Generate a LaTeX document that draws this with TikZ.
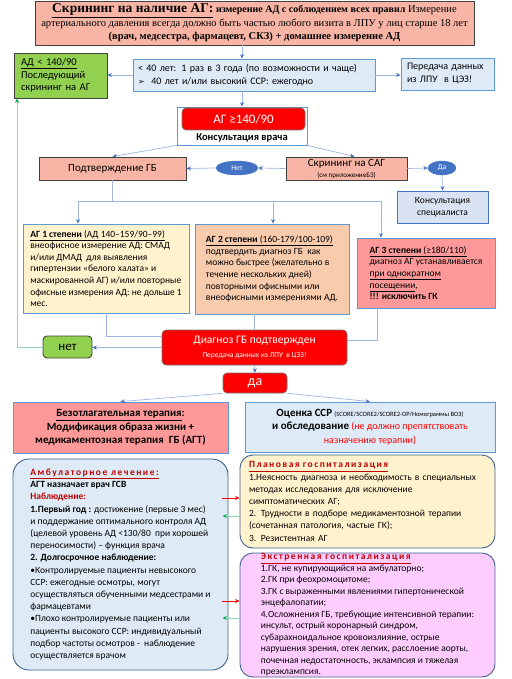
\documentclass[tikz,border=0pt]{standalone}
\usepackage{fontspec}
\setmainfont{Carlito}
\newfontfamily\timesfont{Liberation Serif}
\newfontfamily\spacedfont[LetterSpace=16]{Carlito}
\newfontfamily\symbfont{DejaVu Sans}
\usepackage{xcolor}
\usepackage{tikz}
\usetikzlibrary{shapes.geometric,arrows.meta}

\definecolor{salmon}{HTML}{F8B4A4}
\definecolor{paleblue}{HTML}{DEEBF7}
\definecolor{edgeblue}{HTML}{5B9BD5}
\definecolor{lineblue}{HTML}{9DB5DF}
\definecolor{tipblue}{HTML}{4472C4}
\definecolor{frameblue}{HTML}{41618F}
\definecolor{paleyellow}{HTML}{FFF2CC}
\definecolor{peach}{HTML}{F8CBAD}
\definecolor{rosered}{HTML}{FF9999}
\definecolor{leafgreen}{HTML}{92D050}
\definecolor{softgreen}{HTML}{8CD9A8}
\definecolor{tipgreen}{HTML}{00B050}
\definecolor{pinkviolet}{HTML}{FFCCFF}
\definecolor{darkred}{HTML}{C00000}
\definecolor{lavender}{HTML}{DAE3F3}

\begin{document}
\begin{tikzpicture}[x=1pt, y=-1pt,
    font=\fontsize{9.5}{11.6}\selectfont,
    box/.style={draw=edgeblue, line width=0.8pt, inner sep=0pt},
    darkbox/.style={draw=black!75, line width=0.9pt, inner sep=0pt},
    redbox/.style={fill=red, draw=black!55, line width=0.6pt, rounded corners=4pt, text=white, inner sep=0pt},
    oval/.style={ellipse, fill=tipblue, draw=tipblue, text=white, inner sep=0pt, font=\fontsize{7.5}{8}\selectfont},
    roundbox/.style={draw=frameblue, line width=0.9pt, rounded corners=16pt, inner sep=0pt},
    link/.style={draw=lineblue, line width=0.7pt},
    arr/.style={link, -{Stealth[color=tipblue, length=4.5pt, width=4pt]}},
    garr/.style={draw=softgreen, line width=0.7pt, -{Stealth[color=tipgreen, length=4.5pt, width=4pt]}},
    rarr/.style={draw=red, line width=0.7pt, -{Stealth[color=red, length=4.5pt, width=4pt]}}]
    \useasboundingbox (0,0) rectangle (511,679);

    \node[darkbox, fill=salmon, minimum width=439pt, minimum height=44pt, align=center, font=\timesfont\fontsize{10.5}{13.5}\selectfont] (scr) at (254.5,23) {{\fontsize{13.5}{14}\selectfont\bfseries\underline{Скрининг на наличие АГ:}} {\fontsize{10}{13.5}\selectfont\bfseries измерение АД с соблюдением всех правил} Измерение\\ артериального давления всегда должно быть частью любого визита в ЛПУ у лиц старше 18 лет\\ \textbf{(врач, медсестра, фармацевт, СКЗ) + домашнее измерение АД}};
    \node[box, fill=paleblue, minimum width=242pt, minimum height=32pt, inner xsep=5pt, text width=232pt, align=left, font=\fontsize{10}{13}\selectfont] (freq) at (254,75) {< 40 лет: 1 раз в 3 года (по возможности и чаще)\\ {\symbfont\fontsize{8}{10}\selectfont ➢}\ \ 40 лет и/или высокий ССР: ежегодно};
    \node[darkbox, fill=leafgreen, minimum width=93pt, minimum height=45pt, inner xsep=7pt, text width=79pt, align=left, font=\fontsize{10.5}{12.7}\selectfont] (norm) at (60.5,75.5) {\underline{АД < 140/90}\\ Последующий\\ скрининг на АГ};
    \node[box, fill=paleblue, minimum width=93pt, minimum height=32pt, inner xsep=6pt, text width=81pt, align=left, font=\fontsize{10}{13}\selectfont] (send) at (447.5,74) {Передача данных\\ из ЛПУ \ в ЦЭЗ!};

    \node[box, fill=white, minimum width=130pt, minimum height=38pt] (ag) at (242,126) {};
    \node[redbox, minimum width=123pt, minimum height=22pt, font=\fontsize{13}{14}\selectfont] (agred) at (243.5,119) {АГ ≥140/90};
    \node[font=\bfseries\fontsize{10.5}{12}\selectfont] (doctor) at (242,137.5) {Консультация врача};

    \node[darkbox, fill=salmon, minimum width=147pt, minimum height=23pt, font=\fontsize{11}{12}\selectfont] (confirm) at (112.5,168.5) {Подтверждение ГБ};
    \node[darkbox, fill=salmon, minimum width=121pt, minimum height=23pt, align=center, font=\fontsize{11}{11}\selectfont] (sag) at (346.5,168.5) {Скрининг на САГ\\ {\fontsize{7}{8}\selectfont(см приложениеБ3)}};
    \node[oval, minimum width=42pt, minimum height=14pt] (no1) at (237,168) {Нет};
    \node[oval, minimum width=28pt, minimum height=14pt] (yes1) at (442,168) {Да};
    \node[draw=tipblue, line width=0.8pt, fill=lavender, minimum width=91pt, minimum height=32pt, align=center, font=\fontsize{9.5}{12.5}\selectfont] (spec) at (442.5,207) {Консультация\\ специалиста};

    \node[box, fill=paleyellow, minimum width=166pt, minimum height=89pt, align=left] (deg1) at (106,268.5) {\underline{\textbf{АГ 1 степени} (АД 140–159/90–99)}\\ внеофисное измерение АД: СМАД\\ и/или ДМАД \ для выявления\\ гипертензии «белого халата» и\\ маскированной АГ) и/или повторные\\ офисные измерения АД: не дольше 1\\ мес.};
    \node[box, fill=peach, minimum width=154pt, minimum height=90pt, align=left] (deg2) at (272,269) {\underline{\textbf{АГ 2 степени} (160-179/100-109)}\\ подтвердить диагноз ГБ \ как\\ можно быстрее (желательно в\\ течение нескольких дней)\\ повторными офисными или\\ внеофисными измерениями АД.};
    \node[box, fill=rosered, minimum width=138pt, minimum height=70pt, align=left] (deg3) at (426,273) {\underline{\textbf{АГ 3 степени} (≥180/110)}\\ диагноз АГ устанавливается\\ \underline{при однократном}\\ \underline{посещении},\\ \textbf{!!! исключить ГК}};

    \node[redbox, minimum width=185pt, minimum height=35pt, align=center, font=\fontsize{11.5}{14}\selectfont] (diag) at (254.5,347.5) {Диагноз ГБ подтвержден\\ {\fontsize{7.5}{9}\selectfont Передача данных из ЛПУ \ в ЦЭЗ!}};
    \node[darkbox, fill=leafgreen, rounded corners=4pt, minimum width=49pt, minimum height=22pt, font=\fontsize{13}{14}\selectfont] (no2) at (67.5,347) {нет};
    \node[redbox, minimum width=64pt, minimum height=20pt, font=\fontsize{14}{15}\selectfont] (yes2) at (255,383) {да};

    \node[box, fill=rosered, minimum width=215pt, minimum height=51pt, align=center, font=\bfseries\fontsize{11}{13.5}\selectfont] (ther) at (120.5,427.5) {\underline{Безотлагательная терапия}:\\ Модификация образа жизни +\\ медикаментозная терапия \ ГБ (АГТ)};
    \node[box, fill=paleblue, minimum width=250pt, minimum height=50pt, align=center, font=\fontsize{10}{13.5}\selectfont] (risk) at (370,427) {{\bfseries\fontsize{11}{13.5}\selectfont Оценка ССР} {\fontsize{6.5}{8}\selectfont(SCORE/SCORE2/SCORE2-OP/Номограммы ВОЗ)}\\ {\bfseries\fontsize{11}{13.5}\selectfont и обследование} \textcolor{red}{(не должно препятствовать}\\ \textcolor{red}{назначению терапии)}};

    \node[roundbox, fill=paleblue, minimum width=215pt, minimum height=211pt, align=left, font=\fontsize{9.5}{12.2}\selectfont] (amb) at (120.5,564.5) {{\spacedfont\bfseries\color{darkred}\underline{Амбулаторное лечение:}}\\ \textbf{АГТ назначает врач ГСВ}\\ \textcolor{darkred}{\textbf{Наблюдение:}}\\ \textbf{1.Первый год :} достижение (первые 3 мес)\\ и поддержание оптимального контроля АД\\ (целевой уровень АД <130/80 \ при хорошей\\ переносимости) – функция врача\\ \textbf{2. Долгосрочное наблюдение:}\\ •Контролируемые пациенты невысокого\\ ССР: ежегодные осмотры, могут\\ осуществляться обученными медсестрами и\\ фармацевтами\\ •Плохо контролируемые пациенты или\\ пациенты высокого ССР: индивидуальный\\ подбор частоты осмотров - \ наблюдение\\ осуществляется врачом};
    \node[roundbox, rounded corners=13pt, fill=paleyellow, minimum width=255pt, minimum height=93pt, inner xsep=9pt, text width=237pt, align=left, font=\fontsize{9.5}{12.2}\selectfont] (plan) at (367.5,501.5) {{\spacedfont\bfseries\color{darkred}\underline{Плановая госпитализация}}\\ 1.Неясность диагноза и необходимость в специальных\\ методах исследования для исключение\\ симптоматических АГ;\\ 2. Трудности в подборе медикаментозной терапии\\ (сочетанная патология, частые ГК);\\ 3. Резистентная АГ};
    \node[roundbox, rounded corners=13pt, fill=pinkviolet, minimum width=255pt, minimum height=124pt, align=left, font=\fontsize{9.5}{11.5}\selectfont] (emerg) at (367.5,615) {{\spacedfont\bfseries\color{darkred}\underline{Экстренная госпитализация}}\\ 1.ГК, не купирующийся на амбулаторно;\\ 2.ГК при феохромоцитоме;\\ 3.ГК с выраженными явлениями гипертонической\\ энцефалопатии;\\ 4.Осложнения ГБ, требующие интенсивной терапии:\\ инсульт, острый коронарный синдром,\\ субарахноидальное кровоизлияние, острые\\ нарушения зрения, отек легких, расслоение аорты,\\ почечная недостаточность, эклампсия и тяжелая\\ преэклампсия.};

    \coordinate (b1) at (78,201);
    \coordinate (b2) at (273,201);
    \coordinate (b3) at (381,201);
    \coordinate (j1) at (106,336);
    \coordinate (j3) at (377,340);
    \coordinate (g1) at (17,347);
    \coordinate (r1) at (0,498);
    \coordinate (r2) at (0,516);
    \coordinate (r3) at (0,601);
    \coordinate (r4) at (0,618);

    \draw[arr] (scr.south -| ag.north) -- (freq.north -| ag.north);
    \draw[arr] (freq.west) -- (freq.west -| norm.east);
    \draw[arr] (freq.east) -- (freq.east -| send.west);
    \draw[arr] (freq.south -| ag.north) -- (ag.north);
    \draw[arr] (ag.south west) -- (confirm.north);
    \draw[arr] (ag.south east) -- ([xshift=8pt]sag.north);
    \draw[arr] (sag.west) -- (no1.east);
    \draw[arr] (no1.west) -- (confirm.east);
    \draw[arr] (sag.east) -- (yes1.west);
    \draw[arr] (yes1.south) -- (spec.north);
    \draw[link] (confirm.south) -- (confirm.south |- b1);
    \draw[link] (b1) -- (b3);
    \draw[arr] (b1) -- (b1 |- deg1.north);
    \draw[arr] (b2) -- (b2 |- deg2.north);
    \draw[arr] (b3) -- (b3 |- deg3.north);
    \draw[link] (deg1.south -| j1) -- (j1) -- (j1 -| diag.west);
    \draw[link] (deg2.south -| diag.north) -- (diag.north);
    \draw[link] (deg3.south -| j3) -- (j3) -- (j3 -| diag.east);
    \draw[arr] (diag.west) -- (diag.west -| no2.east);
    \draw[garr] (no2.west) -- (g1) -- (g1 |- norm.south);
    \draw[arr] (diag.south) -- (yes2.north);
    \draw[arr] (yes2.south west) -- (ther.north);
    \draw[arr] (yes2.south east) -- (risk.north);
    \draw[rarr] ([xshift=-6pt]amb.east |- r1) -- (plan.west |- r1);
    \draw[garr] (plan.west |- r2) -- ([xshift=-6pt]amb.east |- r2);
    \draw[rarr] ([xshift=-6pt]amb.east |- r3) -- (emerg.west |- r3);
    \draw[garr] (emerg.west |- r4) -- ([xshift=-6pt]amb.east |- r4);
\end{tikzpicture}
\end{document}
